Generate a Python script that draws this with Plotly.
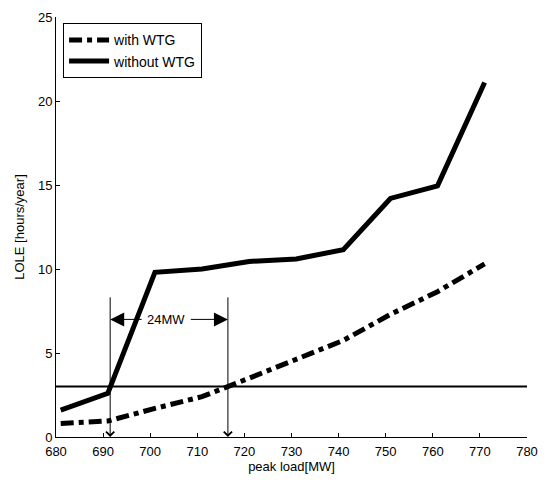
import plotly.graph_objects as go

# Data
peak_load = [681, 691, 701, 711, 721, 731, 741, 751, 761, 771]
lole_without_wtg = [1.6, 2.6, 9.8, 10.0, 10.45, 10.6, 11.15, 14.2, 14.95, 21.1]
lole_with_wtg = [0.8, 0.95, 1.7, 2.4, 3.5, 4.65, 5.75, 7.3, 8.65, 10.3]
threshold_x = [680, 780]
threshold_lole = 3
crossing_without = 691.5
crossing_with = 716.5
arrow_top = 8.4
gap_label_y = 7
gap_label = "24MW"
x_ticks = [680, 690, 700, 710, 720, 730, 740, 750, 760, 770, 780]
y_ticks = [0, 5, 10, 15, 20, 25]

FONT = "Liberation Sans, Arial, sans-serif"

fig = go.Figure()
fig.add_trace(go.Scatter(
    x=peak_load, y=lole_with_wtg, mode="lines", name="with WTG",
    line=dict(color="black", width=5, dash="13px,5px,5px,5px"),
))
fig.add_trace(go.Scatter(
    x=peak_load, y=lole_without_wtg, mode="lines", name="without WTG",
    line=dict(color="black", width=5),
))
fig.add_trace(go.Scatter(
    x=threshold_x, y=[threshold_lole] * len(threshold_x), mode="lines",
    line=dict(color="black", width=2), showlegend=False,
))

mid = (crossing_without + crossing_with) / 2 - 0.6
annotations = []
for cx in (crossing_without, crossing_with):
    annotations.append(dict(
        x=cx, y=0, ax=cx, ay=arrow_top, xref="x", yref="y", axref="x", ayref="y",
        showarrow=True, arrowhead=4, arrowsize=1.6, arrowwidth=1, arrowcolor="black", text="",
    ))
annotations.append(dict(
    x=crossing_without, y=gap_label_y, ax=mid - 4.9, ay=gap_label_y,
    xref="x", yref="y", axref="x", ayref="y",
    showarrow=True, arrowhead=2, arrowsize=2.8, arrowwidth=1, arrowcolor="black", text="",
))
annotations.append(dict(
    x=crossing_with, y=gap_label_y, ax=mid + 4.9, ay=gap_label_y,
    xref="x", yref="y", axref="x", ayref="y",
    showarrow=True, arrowhead=2, arrowsize=2.8, arrowwidth=1, arrowcolor="black", text="",
))
annotations.append(dict(
    x=mid, y=gap_label_y, xref="x", yref="y", text=gap_label, showarrow=False,
    font=dict(family=FONT, size=13, color="black"), bgcolor="white",
))

# page body has an 8px default margin; size the figure so the plot lands where the reference's does
fig.update_layout(
    width=540, height=476,
    margin=dict(l=48, r=21, t=9, b=47),
    paper_bgcolor="white", plot_bgcolor="white",
    font=dict(family=FONT, size=13, color="black"),
    showlegend=True,
    legend=dict(
        x=0.015, y=0.985, xanchor="left", yanchor="top",
        bgcolor="white", bordercolor="black", borderwidth=1,
        font=dict(family=FONT, size=14, color="black"),
        tracegroupgap=0, itemwidth=40,
    ),
    annotations=annotations,
)
fig.update_xaxes(
    range=[680, 780], tickvals=x_ticks, ticktext=[str(v) for v in x_ticks],
    showgrid=False, zeroline=False, showline=True, linecolor="black", linewidth=1,
    ticks="inside", ticklen=4, tickcolor="black", automargin=False,
    ticklabelstandoff=2,
    title=dict(text="peak load[MW]", font=dict(family=FONT, size=13), standoff=0),
)
fig.update_yaxes(
    range=[0, 25], tickvals=y_ticks, ticktext=[str(v) for v in y_ticks],
    showgrid=False, zeroline=False, showline=True, linecolor="black", linewidth=1,
    ticks="inside", ticklen=4, tickcolor="black", automargin=False,
    ticklabeloverflow="allow",
    title=dict(text="LOLE [hours/year]", font=dict(family=FONT, size=13), standoff=10),
)

fig.write_html("out.html")
